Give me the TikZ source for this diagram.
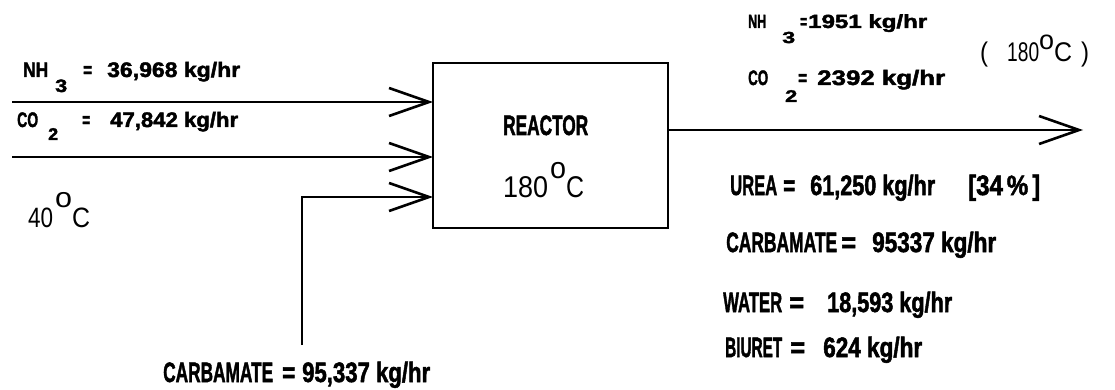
\documentclass[tikz,border=0pt]{standalone}
\usepackage{fontspec}
\setmainfont{Liberation Sans}[BoldFeatures={FakeBold=2}]
\usepackage{graphicx}
\usetikzlibrary{arrows.meta}
\newcommand\sx[2]{\resizebox{#1pt}{\height}{#2}}
\newcommand\fs[1]{\fontsize{#1}{#1}\selectfont}
\begin{document}
\begin{tikzpicture}[x=1pt,y=-1pt,
  flow/.style={line width=2.6pt, line join=miter, -{Straight Barb[length=40pt,width=28pt]}},
  lab/.style={inner sep=0pt, anchor=base west, font=\bfseries},
  deg/.style={inner sep=0pt, anchor=base west},
  boxst/.style={draw, line width=2.6pt, minimum width=235pt, minimum height=165pt, outer sep=0pt, inner sep=0pt}]
\useasboundingbox (0,0) rectangle (1115,390);
\fill[white] (0,0) rectangle (1115,390);

% reactor
\node[boxst] (R) at (550.5,145.5) {};
\node[lab] (rlab) at (503,135) {\fs{28}\sx{85}{REACTOR}};
\node[deg] (rtemp) at (503,197) {\fs{30}\sx{45}{180}\hspace{2pt}\raisebox{19pt}{\sx{16}{o}}\sx{18}{C}};

% connectors
\coordinate (a1) at (12,102);
\coordinate (a2) at (12,157);
\coordinate (c0) at (302,345);
\coordinate (c1) at (302,197);
\coordinate (o1) at (1083,130);
\draw[flow] (a1) -- (a1 -| R.west);
\draw[flow] (a2) -- (a2 -| R.west);
\draw[flow] (c0) -- (c1) -- (c1 -| R.west);
\draw[flow] (o1 -| R.east) -- (o1);

% inlet labels
\node[lab] (nhin) at (23,77) {\fs{21}\sx{25}{NH}\hspace{7pt}\raisebox{-15pt}{\fs{18}\sx{12}{3}}\hspace{16pt}\sx{9}{=}\hspace{15pt}\sx{133}{36,968 kg/hr}};
\node[lab] (coin) at (17,127) {\fs{21}\sx{21}{CO}\hspace{10pt}\raisebox{-13pt}{\fs{17}\sx{10}{2}}\hspace{24pt}\sx{8}{=}\hspace{20pt}\sx{128}{47,842 kg/hr}};
\node[deg] (tin) at (28,227) {\fs{28}\sx{25}{40}\hspace{2pt}\raisebox{20pt}{\sx{17}{o}}\sx{18}{C}};
\node[lab] (carbin) at (163,382) {\fs{28}\sx{110}{CARBAMATE}\hspace{9pt}\sx{13}{=}\hspace{7pt}\sx{128}{95,337 kg/hr}};

% outlet labels
\node[lab] (nhout) at (748,28) {\fs{19}\sx{18}{NH}\hspace{16pt}\raisebox{-15pt}{\fs{16}\sx{13}{3}}\hspace{5pt}\sx{7}{=}\hspace{1pt}\sx{119}{1951 kg/hr}};
\node[deg] (tout) at (980,62) {\fs{27}\sx{8}{(}\hspace{19pt}\sx{32}{180}\raisebox{12pt}{\sx{15}{o}}\sx{18}{C}\hspace{9pt}\sx{8}{)}};
\node[lab] (coout) at (748,85) {\fs{21}\sx{20}{CO}\hspace{17pt}\raisebox{-17pt}{\fs{17}\sx{12}{2}}\hspace{1pt}\sx{9}{=}\hspace{10pt}\sx{128}{2392 kg/hr}};
\node[lab] (urea) at (730,195) {\fs{28}\sx{47}{UREA}\hspace{6pt}\sx{12}{=}\hspace{15pt}\sx{125}{61,250 kg/hr}\hspace{33pt}\sx{72}{[34\,\%\,]}};
\node[lab] (carbout) at (726,252) {\fs{28}\sx{111}{CARBAMATE}\hspace{4pt}\sx{15}{=}\hspace{16pt}\sx{124}{95337 kg/hr}};
\node[lab] (water) at (723,312) {\fs{28}\sx{59}{WATER}\hspace{7pt}\sx{15}{=}\hspace{23pt}\sx{125}{18,593 kg/hr}};
\node[lab] (biuret) at (725,357) {\fs{28}\sx{57}{BIURET}\hspace{8pt}\sx{15}{=}\hspace{18pt}\sx{99}{624 kg/hr}};
\end{tikzpicture}
\end{document}
